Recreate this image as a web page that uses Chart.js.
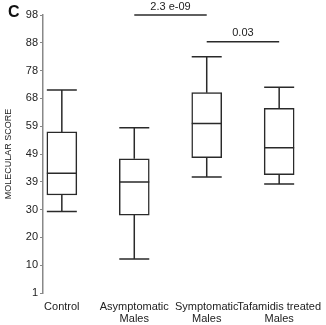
<!DOCTYPE html>
<html>
<head>
<meta charset="utf-8">
<script src="https://cdn.jsdelivr.net/npm/chart.js@4/dist/chart.umd.min.js"></script>
<style>
  html, body { margin: 0; padding: 0; background: #fff; }
  #wrap { width: 326px; height: 325px; }
</style>
</head>
<body>
<div id="wrap"><canvas id="c"></canvas></div>
<script>
// groups on the x axis
var categories = [["Control"], ["Asymptomatic", "Males"], ["Symptomatic", "Males"], ["Tafamidis treated", "Males"]];

// box plot values
var whiskerLow  = [29.4, 12.9, 41.5, 39.0];
var q1          = [35.2, 28.2, 48.2, 42.3];
var medians     = [42.8, 39.7, 60.1, 51.7];
var q3          = [57.2, 47.8, 70.9, 65.4];
var whiskerHigh = [71.8, 58.7, 83.4, 72.8];

// y axis: evenly spaced ticks with these printed labels
var tickLabels = ["1", "10", "20", "30", "39", "49", "59", "68", "78", "88", "98"];
var yMin = 1, yMax = 98;

// significance brackets: from group, to group, level, label
var brackets = [
  { from: 1, to: 2, level: 98, text: "2.3 e-09" },
  { from: 2, to: 3, level: 88.7, text: "0.03" }
];

var ink = "#2a2a2a";
var font = "'Liberation Sans', Arial, sans-serif";

var boxExtras = {
  id: "boxExtras",
  afterDatasetsDraw: function(chart) {
    var ctx = chart.ctx, xs = chart.scales.x, ys = chart.scales.y;
    var meta = chart.getDatasetMeta(0);
    ctx.save();
    ctx.strokeStyle = ink;
    ctx.lineWidth = 1.5;
    for (var i = 0; i < categories.length; i++) {
      var bar = meta.data[i];
      var cx = xs.getPixelForValue(i);
      var half = bar.width / 2;
      var yLo = ys.getPixelForValue(whiskerLow[i]);
      var yHi = ys.getPixelForValue(whiskerHigh[i]);
      var yQ1 = ys.getPixelForValue(q1[i]);
      var yQ3 = ys.getPixelForValue(q3[i]);
      var yMed = ys.getPixelForValue(medians[i]);
      ctx.beginPath();
      ctx.moveTo(cx, yQ3); ctx.lineTo(cx, yHi);
      ctx.moveTo(cx - half, yHi); ctx.lineTo(cx + half, yHi);
      ctx.moveTo(cx, yQ1); ctx.lineTo(cx, yLo);
      ctx.moveTo(cx - half, yLo); ctx.lineTo(cx + half, yLo);
      ctx.moveTo(cx - half, yMed); ctx.lineTo(cx + half, yMed);
      ctx.stroke();
    }
    // brackets
    ctx.fillStyle = "#222";
    ctx.font = "11px " + font;
    ctx.textAlign = "center";
    ctx.textBaseline = "bottom";
    brackets.forEach(function(b) {
      var x1 = xs.getPixelForValue(b.from), x2 = xs.getPixelForValue(b.to);
      var y = ys.getPixelForValue(b.level);
      ctx.beginPath();
      ctx.moveTo(x1, y); ctx.lineTo(x2, y);
      ctx.stroke();
      ctx.fillText(b.text, (x1 + x2) / 2, y - 3);
    });
    // panel letter
    ctx.font = "bold 16px " + font;
    ctx.textAlign = "left";
    ctx.textBaseline = "middle";
    ctx.fillStyle = "#111";
    ctx.fillText("C", 8, 13);
    ctx.restore();
  }
};

new Chart(document.getElementById("c"), {
  type: "bar",
  data: {
    datasets: [{
      data: categories.map(function(c, i) { return { x: i, y: [q1[i], q3[i]] }; }),
      backgroundColor: "#ffffff",
      borderColor: ink,
      borderWidth: 1.5,
      borderSkipped: false,
      barThickness: 30
    }]
  },
  options: {
    responsive: true,
    maintainAspectRatio: false,
    animation: false,
    layout: { padding: { top: 15, right: 28, bottom: 0, left: 0 } },
    plugins: { legend: { display: false }, tooltip: { enabled: false } },
    scales: {
      x: {
        type: "linear",
        offset: false,
        min: -0.26,
        max: 3.26,
        afterBuildTicks: function(axis) {
          axis.ticks = categories.map(function(c, i) { return { value: i }; });
        },
        afterFit: function(axis) {
          axis.height = 32;
          axis.paddingLeft = 0;
          axis.paddingRight = 0;
        },
        grid: { display: false, offset: false },
        border: { display: false },
        ticks: {
          autoSkip: false,
          maxRotation: 0,
          padding: 0,
          color: "#222",
          font: { family: font, size: 11, lineHeight: 1.1 },
          callback: function(v, i) { return categories[i]; }
        }
      },
      y: {
        min: yMin,
        max: yMax,
        afterBuildTicks: function(axis) {
          axis.ticks = tickLabels.map(function(l, i) {
            return { value: yMin + i * (yMax - yMin) / (tickLabels.length - 1) };
          });
        },
        afterFit: function(axis) { axis.width = 43; },
        grid: { display: true, drawOnChartArea: false, tickLength: 3, color: "#888", lineWidth: 1 },
        border: { display: true, color: "#888", width: 1.5 },
        ticks: {
          padding: 2,
          color: "#222",
          font: { family: font, size: 11 },
          callback: function(v, i) { return tickLabels[i]; }
        },
        title: {
          display: true,
          text: "MOLECULAR SCORE",
          color: "#222",
          font: { family: font, size: 9 },
          padding: { top: 3, bottom: 0 }
        }
      }
    }
  },
  plugins: [boxExtras]
});
</script>
</body>
</html>
